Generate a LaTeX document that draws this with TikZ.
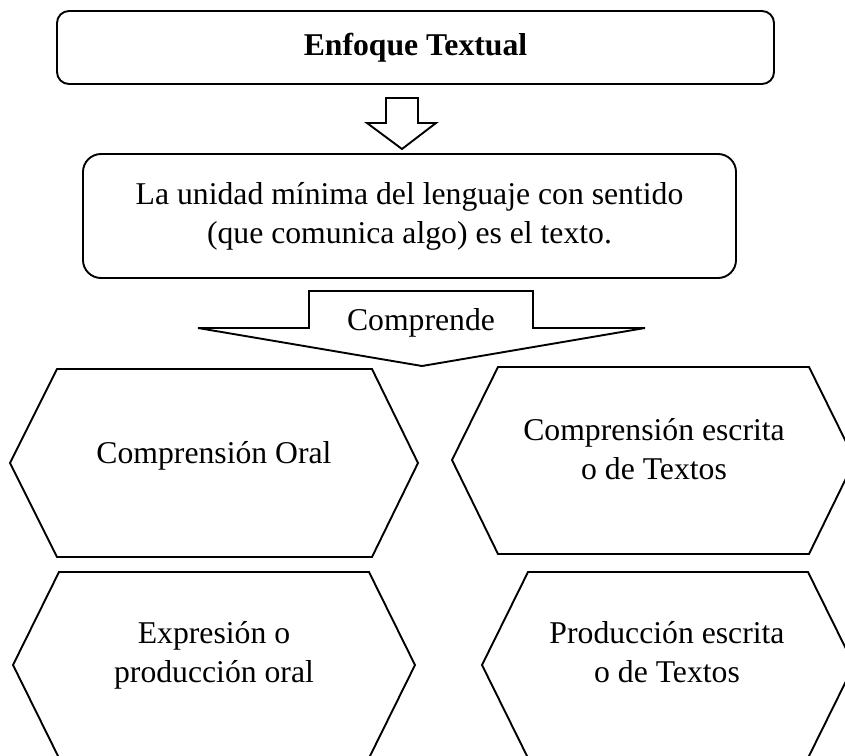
\documentclass[tikz,border=0pt]{standalone}
\usepackage{fontspec}
\setmainfont{Liberation Serif}
\begin{document}
\begin{tikzpicture}[x=1pt,y=-1pt,line width=1.9pt,
  font=\fontsize{31.7}{39}\selectfont,
  roundbox/.style={draw=black,fill=white,rectangle,inner sep=0pt},
  blockarrow/.style={draw=black,fill=white,line join=miter},
  hexa/.style={draw=black,fill=white,line join=miter},
  label/.style={inner sep=0pt,align=center,anchor=base}]
\useasboundingbox (0,0) rectangle (845,755);
\fill[white] (0,0) rectangle (845,755);

% top box
\node[roundbox,rounded corners=12pt,minimum width=717pt,minimum height=73pt] (top) at (415.5,47.5) {\textbf{Enfoque Textual}};

% hollow arrow
\draw[blockarrow] (386,98) -- (418,98) -- (418,123) -- (436,123) -- (402,149) -- (367,123) -- (386,123) -- cycle;

% second box
\node[roundbox,rounded corners=18pt,minimum width=653pt,minimum height=124pt,align=center] (mid) at (409.5,216) {La unidad mínima del lenguaje con sentido\\(que comunica algo) es el texto.};

% Comprende arrow
\draw[blockarrow] (309,291) -- (533,291) -- (533,328) -- (645,328) -- (422,366) -- (198,328) -- (309,328) -- cycle;
\node[label] (comp) at (421,330) {Comprende};

% hexagons
\draw[hexa] (57,369) -- (372,369) -- (418,463) -- (372,557) -- (57,557) -- (10,463) -- cycle;
\draw[hexa] (498,367) -- (809,367) -- (855,460) -- (809,554) -- (498,554) -- (452,460) -- cycle;
\draw[hexa] (59,572) -- (369,572) -- (415,665) -- (369,758) -- (59,758) -- (13,665) -- cycle;
\draw[hexa] (528,572) -- (808,572) -- (854,665) -- (808,758) -- (528,758) -- (482,665) -- cycle;

\node[label] (h1) at (214,463) {Comprensión Oral};
\node[label] (h2) at (654,479) {Comprensión escrita\\o de Textos};
\node[label] (h3) at (214,682) {Expresión o\\producción oral};
\node[label] (h4) at (667,682) {Producción escrita\\o de Textos};
\end{tikzpicture}
\end{document}
